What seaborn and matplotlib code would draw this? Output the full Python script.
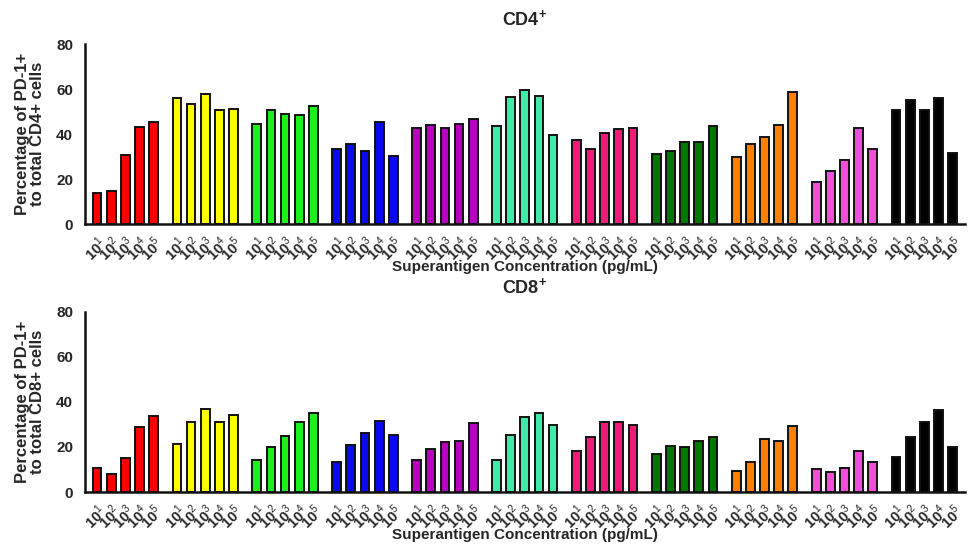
import numpy as np
import pandas as pd
import seaborn as sns
import matplotlib
matplotlib.use("Agg")
import matplotlib.pyplot as plt

# groups (colours only, no names on the chart) and concentrations
groups = ["red", "yellow", "green", "blue", "purple", "aqua",
          "pink", "darkgreen", "orange", "violet", "black"]
colors = ["#FF0000", "#FFFF00", "#1EF01E", "#0A0AF0", "#B800C0", "#40EBA8",
          "#F01C78", "#007800", "#FF8000", "#F050D8", "#000000"]
conc_labels = [r"$\mathbf{10}^{1}$", r"$\mathbf{10}^{2}$", r"$\mathbf{10}^{3}$",
               r"$\mathbf{10}^{4}$", r"$\mathbf{10}^{5}$"]

cd4_values = [
    [14.0, 14.5, 30.7, 43.0, 45.5],
    [56.1, 53.5, 57.6, 50.5, 51.0],
    [44.4, 50.8, 48.9, 48.4, 52.6],
    [33.2, 35.7, 32.4, 45.3, 30.2],
    [42.8, 44.1, 42.5, 44.3, 46.7],
    [43.6, 56.4, 59.4, 56.7, 39.7],
    [37.5, 33.2, 40.4, 42.1, 42.8],
    [31.1, 32.4, 36.4, 36.4, 43.7],
    [29.8, 35.7, 38.5, 44.1, 58.7],
    [18.5, 23.6, 28.6, 42.8, 33.2],
    [50.7, 55.1, 50.7, 56.0, 31.7],
]

cd8_values = [
    [10.7, 7.9, 15.0, 29.1, 33.8],
    [21.5, 31.2, 37.0, 31.2, 34.3],
    [14.1, 19.9, 24.8, 30.9, 35.0],
    [13.5, 20.8, 26.3, 31.5, 25.4],
    [14.0, 18.9, 22.3, 22.7, 30.5],
    [14.1, 25.4, 33.3, 34.9, 29.7],
    [18.4, 24.4, 31.2, 31.0, 29.6],
    [16.8, 20.5, 19.8, 22.7, 24.5],
    [9.5, 13.4, 23.5, 22.7, 29.3],
    [10.0, 8.9, 10.7, 18.3, 13.4],
    [15.6, 24.5, 31.0, 36.4, 19.8],
]

GROUP_STEP = 5.65  # distance between group starts, in bar slots


def make_frame(values):
    rows = []
    for g, vals in enumerate(values):
        for i, v in enumerate(vals):
            rows.append({"group": groups[g], "pos": g * GROUP_STEP + i,
                         "conc": conc_labels[i], "value": v})
    return pd.DataFrame(rows)


def draw_panel(ax, df, title, ylabel):
    sns.barplot(data=df, x="pos", y="value", hue="group", palette=colors,
                hue_order=groups, native_scale=True, dodge=False, width=0.62,
                saturation=1, edgecolor="#111111", linewidth=1.4,
                legend=False, ax=ax)
    ax.set_xticks(df["pos"])
    ax.set_xticklabels(df["conc"], rotation=45, ha="right",
                       rotation_mode="anchor", fontsize=10.5)
    ax.tick_params(axis="x", length=4, width=1.5, pad=3)
    ax.tick_params(axis="y", length=5, width=1.5, labelsize=11)
    for lab in ax.get_yticklabels():
        lab.set_fontweight("bold")
    ax.set_ylim(0, 80)
    ax.set_yticks([0, 20, 40, 60, 80])
    ax.set_xlim(-0.85, df["pos"].max() + 0.85)
    ax.set_title(title, fontsize=13, fontweight="bold", pad=14)
    ax.set_ylabel(ylabel, fontsize=12, fontweight="bold", linespacing=1.0,
                  labelpad=8)
    ax.set_xlabel("Superantigen Concentration (pg/mL)", fontsize=11,
                  fontweight="bold", labelpad=-3)
    for side in ["top", "right"]:
        ax.spines[side].set_visible(False)
    for side in ["left", "bottom"]:
        ax.spines[side].set_linewidth(1.8)
        ax.spines[side].set_color("#111111")


def main():
    sns.set_style("white")
    plt.rcParams["font.family"] = ["Liberation Sans", "DejaVu Sans"]
    plt.rcParams["mathtext.fontset"] = "custom"
    plt.rcParams["mathtext.rm"] = "Liberation Sans"
    plt.rcParams["mathtext.bf"] = "Liberation Sans:bold"

    fig = plt.figure(figsize=(9.71, 5.46), dpi=100)
    ax1 = fig.add_axes([0.0875, 0.5897, 0.906, 0.3297])
    ax2 = fig.add_axes([0.0875, 0.0989, 0.906, 0.3297])

    draw_panel(ax1, make_frame(cd4_values), r"CD4$^{\mathbf{+}}$",
               "Percentage of PD-1+\nto total CD4+ cells")
    draw_panel(ax2, make_frame(cd8_values), r"CD8$^{\mathbf{+}}$",
               "Percentage of PD-1+\nto total CD8+ cells")

    fig.savefig("out.png", dpi=100)


if __name__ == "__main__":
    main()
